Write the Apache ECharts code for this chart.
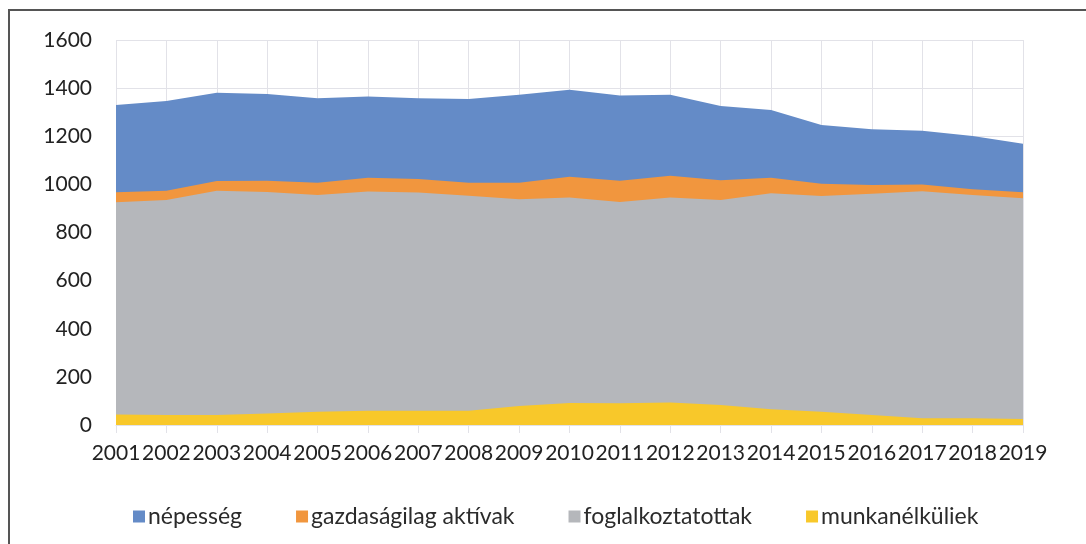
<!DOCTYPE html>
<html>
<head>
<meta charset="utf-8">
<script src="https://cdn.jsdelivr.net/npm/echarts@6/dist/echarts.min.js"></script>
<style>
  html, body { margin: 0; padding: 0; background: #fff; }
  #frame { position: absolute; left: 8px; top: 9px; width: 1100px; height: 560px;
           border-left: 2px solid #555; border-top: 2px solid #555; }
  #show { position: absolute; left: 0; top: 0; width: 1086px; height: 544px; }
</style>
</head>
<body>
<div id="frame"></div>
<div id="show"></div>
<script>
// évek
var years = ['2001','2002','2003','2004','2005','2006','2007','2008','2009','2010',
             '2011','2012','2013','2014','2015','2016','2017','2018','2019'];
// népesség
var nepesseg = [1330,1347,1381,1376,1358,1365,1358,1355,1372,1393,
                1369,1372,1326,1309,1247,1229,1223,1201,1169];
// gazdaságilag aktívak
var aktivak = [967,974,1014,1015,1007,1028,1022,1007,1007,1032,
               1015,1036,1017,1028,1003,997,999,980,967];
// foglalkoztatottak
var foglalkoztatottak = [926,935,974,968,956,970,966,953,938,945,
                         927,945,935,963,952,961,971,956,942];
// munkanélküliek
var munkanelkuliek = [44,42,42,48,55,59,59,59,79,91,
                      90,93,83,65,55,42,28,28,25];

var names = ['népesség','gazdaságilag aktívak','foglalkoztatottak','munkanélküliek'];
var colors = ['#648bc7','#f1963e','#b5b7bb','#f8c82a'];
var seriesValues = [nepesseg, aktivak, foglalkoztatottak, munkanelkuliek];

var myChart = echarts.init(document.getElementById('show'));
myChart.setOption({
  animation: false,
  textStyle: { fontFamily: 'Lato' },
  grid: { left: 116, right: 63, top: 40, bottom: 119 },
  legend: {
    data: names,
    bottom: 11,
    left: 128,
    icon: 'rect',
    itemWidth: 12,
    itemHeight: 12,
    itemGap: 54,
    textStyle: { fontFamily: 'Lato', fontSize: 23, color: '#2b2b2b', padding: [0, 0, 0, -2] }
  },
  xAxis: {
    type: 'category',
    data: years,
    boundaryGap: false,
    axisLine: { lineStyle: { color: '#e2e2e8', width: 1 } },
    axisTick: { show: true, length: 8, lineStyle: { color: '#e2e2e8' } },
    splitLine: { show: true, lineStyle: { color: '#e2e2e8', width: 1 } },
    axisLabel: { fontFamily: 'Lato', fontSize: 21, color: '#222', margin: 18, interval: 0 }
  },
  yAxis: {
    type: 'value',
    min: 0,
    max: 1600,
    interval: 200,
    axisLine: { show: false },
    axisTick: { show: false },
    splitLine: { lineStyle: { color: '#e2e2e8', width: 1 } },
    axisLabel: { fontFamily: 'Lato', fontSize: 21, color: '#222', margin: 24,
                 formatter: function (v) { return String(v); } }
  },
  series: names.map(function (n, i) {
    return {
      name: n,
      type: 'line',
      data: seriesValues[i],
      showSymbol: false,
      symbol: 'none',
      lineStyle: { width: 0 },
      itemStyle: { color: colors[i] },
      areaStyle: { color: colors[i], opacity: 1 }
    };
  })
});
</script>
</body>
</html>
